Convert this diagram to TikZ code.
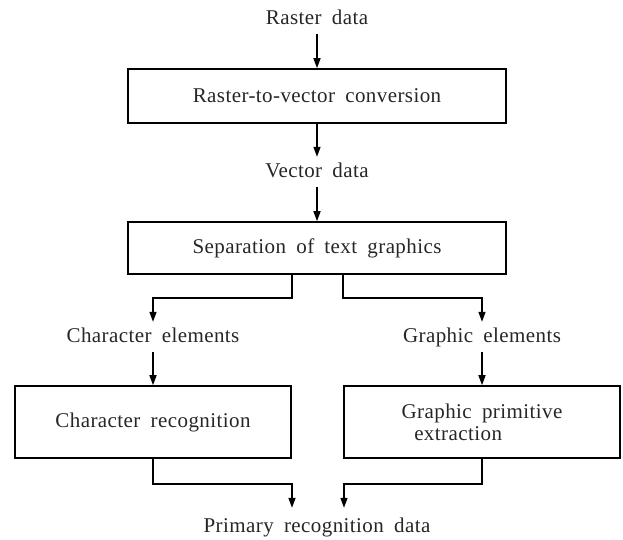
\documentclass[tikz,border=0pt]{standalone}
\usepackage{fontspec}
\setmainfont{Liberation Serif}[WordSpace=1.8,LetterSpace=2.0]
\usetikzlibrary{arrows.meta}
\begin{document}
\begin{tikzpicture}[x=1pt,y=-1pt,
  every node/.style={font=\fontsize{21}{22}\selectfont, text=black!85},
  lbl/.style={inner xsep=2pt, inner ysep=6pt, text height=14pt, text depth=4pt},
  procbox/.style={draw=black, line width=1.6pt, inner sep=0pt, align=center},
  conn/.style={line width=1.5pt, -{Triangle[length=10pt,width=7pt]}}]
\useasboundingbox (0,0) rectangle (623,539);
\node[lbl] (rd) at (317,19) {Raster data};
\node[procbox, minimum width=378pt, minimum height=54pt] (b1) at (317,96) {Raster-to-vector conversion};
\node[lbl] (vd) at (317,172) {Vector data};
\node[procbox, minimum width=378pt, minimum height=52pt] (b2) at (317,248) {Separation of text graphics};
\node[lbl] (ce) at (153,337) {Character elements};
\node[lbl] (ge) at (482,337) {Graphic elements};
\node[procbox, minimum width=276pt, minimum height=72pt] (b3) at (153,422) {Character recognition};
\node[procbox, minimum width=276pt, minimum height=72pt, align=left] (b4) at (482,422) {Graphic primitive\\\hspace*{0.6em}extraction};
\node[lbl, inner ysep=10pt] (prd) at (317,527) {Primary recognition data};
\draw[conn] (rd.south) -- (b1.north);
\draw[conn] (b1.south) -- (vd.north);
\draw[conn] (vd.south) -- (b2.north);
\draw[conn] ([xshift=-25pt]b2.south) -- ++(0,23) -| (ce.north);
\draw[conn] ([xshift=26pt]b2.south) -- ++(0,23) -| (ge.north);
\draw[conn] (ce.south) -- (b3.north);
\draw[conn] (ge.south) -- (b4.north);
\draw[conn] (b3.south) -- ++(0,25) -| ([xshift=-25pt]prd.north);
\draw[conn] (b4.south) -- ++(0,25) -| ([xshift=27pt]prd.north);
\end{tikzpicture}
\end{document}
